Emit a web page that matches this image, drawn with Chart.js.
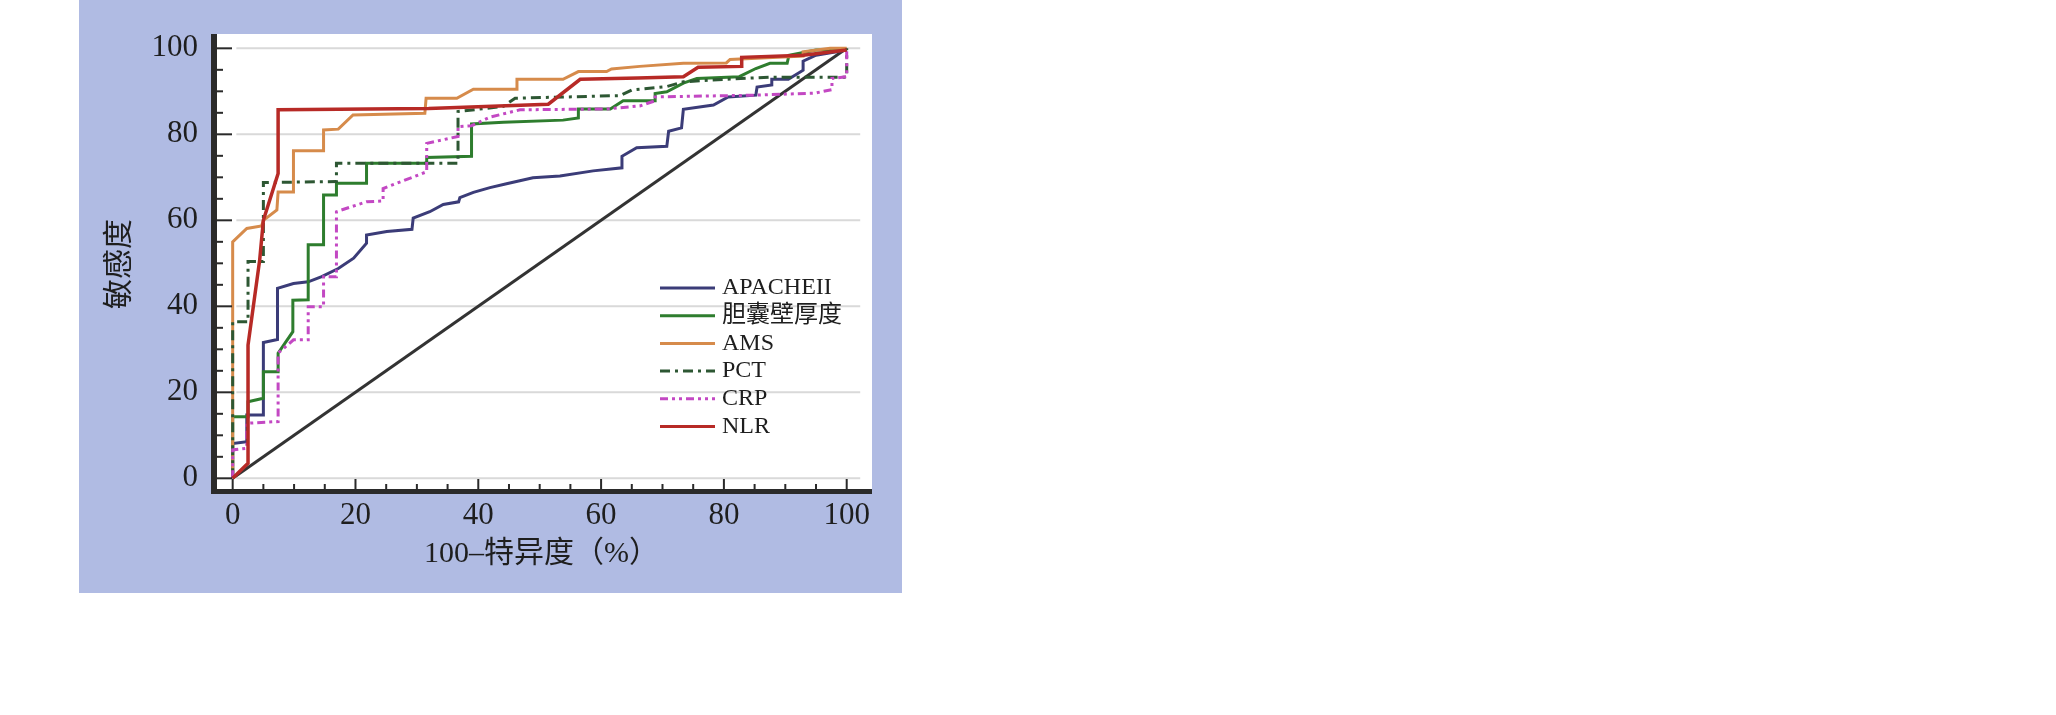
<!DOCTYPE html>
<html>
<head>
<meta charset="utf-8">
<script src="https://cdn.jsdelivr.net/npm/chart.js@4.4.0/dist/chart.umd.min.js"></script>
<style>
  html, body { margin: 0; padding: 0; background: #fff; }
  body { width: 2056px; height: 715px; position: relative; overflow: hidden; }
  #panel { position: absolute; left: 79px; top: 0; width: 823px; height: 593px; background: #b0bbe3; }
  #panel canvas { position: absolute; left: 0; top: 0; }
</style>
</head>
<body>
<div id="panel"><canvas id="roc" width="823" height="593"></canvas></div>
<script>
// ROC curves, [100-specificity, sensitivity]
const apache = [[0,0],[0,8.1],[2.3,8.5],[2.3,14.7],[5,14.7],[5,31.6],[7.3,32.3],[7.3,44.2],[9.9,45.3],[12.3,45.7],[14.5,46.9],[17.2,48.8],[19.7,51.2],[21.8,54.7],[21.8,56.6],[25.1,57.4],[29.2,57.9],[29.4,60.5],[32.1,62],[34.3,63.7],[36.8,64.3],[37,65.3],[39.2,66.5],[41.9,67.6],[44.6,68.5],[48.9,69.9],[53.3,70.3],[58.7,71.5],[63.4,72.2],[63.4,74.9],[65.8,76.9],[70.7,77.2],[71,80.7],[73.1,81.5],[73.4,85.8],[78.3,86.8],[80.7,88.7],[85.2,89.1],[85.4,91],[87.8,91.5],[87.8,92.8],[90.5,92.8],[92.9,94.9],[92.9,97],[95,98.4],[100,99.6]];
const wall = [[0,0],[0,14.3],[2.5,14.3],[2.5,17.8],[5,18.6],[5,24.8],[7.4,24.8],[7.4,29.1],[9.8,34.1],[9.8,41.4],[12.3,41.5],[12.3,54.3],[14.8,54.3],[14.8,65.9],[16.9,65.9],[16.9,68.6],[21.8,68.6],[21.8,73.3],[31.6,73.3],[31.6,74.6],[38.9,74.9],[38.9,82.4],[44.1,82.8],[53.8,83.3],[56.3,83.8],[56.3,85.9],[61.5,85.9],[63.6,87.8],[68.8,87.8],[68.8,89.5],[70.7,89.9],[73.4,91.9],[75.6,93],[82.5,93.4],[85.2,95.3],[87.5,96.5],[90.3,96.5],[90.6,98.4],[95,99.6],[100,99.6]];
const ams = [[0,0],[0,55],[2.3,58.1],[4.7,58.7],[5,60],[7.2,62.4],[7.4,66.6],[9.9,66.6],[9.9,76.2],[14.8,76.2],[14.8,81],[17.2,81.2],[19.6,84.5],[31.3,84.9],[31.5,88.4],[36.5,88.4],[39.2,90.5],[46.3,90.5],[46.3,92.8],[53.8,92.8],[56.3,94.6],[60.9,94.6],[61.7,95.2],[66.3,95.8],[73.4,96.5],[80.4,96.6],[81,97.4],[92.9,98.2],[92.9,99.2],[97.3,100],[100,100]];
const pct = [[0,0],[0,36.4],[2.5,36.4],[2.5,50.4],[5,50.4],[5,68.8],[16.9,69],[16.9,73.3],[36.7,73.3],[36.7,85.3],[44.1,86.5],[46,88.4],[63.1,89],[65,90.3],[70.7,91.1],[73.4,92.2],[77.7,92.6],[87.5,93.3],[100,93.3],[100,100]];
const crp = [[0,0],[0,6.6],[2.3,7],[2.3,12.8],[7.4,13.2],[7.4,29.1],[9.9,32.2],[12.3,32.2],[12.3,39.9],[14.8,39.9],[14.8,46.9],[16.9,46.9],[16.9,62],[19.4,63.2],[21.8,64.3],[24.5,64.5],[24.5,67.4],[26.7,68.6],[31.6,71.3],[31.6,77.9],[36.7,79.5],[36.7,81.8],[38.9,82],[41.9,84],[46.8,85.7],[60.9,85.9],[66.3,86.6],[68.8,87.8],[68.8,88.7],[85.2,89.1],[94.9,89.6],[97.6,90.4],[97.6,93],[100,93.4],[100,99.6]];
const nlr = [[0,0],[2.5,3.5],[2.5,31],[4.4,50.8],[5,60],[7.4,70.9],[7.4,85.7],[31.9,86],[51.4,87],[56.6,92.8],[66,93.1],[73.4,93.4],[75.8,95.6],[82.9,95.8],[82.9,97.9],[92.9,98.4],[100,99.6]];
const chance = [[0,0],[100,100]];

const seriesNames = ["APACHEII", "胆囊壁厚度", "AMS", "PCT", "CRP", "NLR"];
const xTicks = [0, 20, 40, 60, 80, 100];
const yTicks = [0, 20, 40, 60, 80, 100];
const minorTicks = [0, 5, 10, 15, 20, 25, 30, 35, 40, 45, 50, 55, 60, 65, 70, 75, 80, 85, 90, 95, 100];

const serif = "'Liberation Serif', 'Times New Roman', 'Noto Sans CJK SC', serif";
const ink = "#1e1e1e";

const toPts = arr => arr.map(p => ({ x: p[0], y: p[1] }));

const line = (label, pts, color, order, dash, width) => ({
  label: label,
  data: toPts(pts),
  borderColor: color,
  borderWidth: width || 3,
  borderDash: dash || [],
  pointRadius: 0,
  tension: 0,
  fill: false,
  order: order,
});

const datasets = [
  line(seriesNames[0], apache, "#3b3c78", 6),
  line(seriesNames[1], wall, "#2e7d2e", 5),
  line(seriesNames[2], ams, "#d68b4b", 4),
  line(seriesNames[3], pct, "#2d5733", 3, [10, 5, 3, 5]),
  line(seriesNames[4], crp, "#c348c3", 2, [8, 4, 3, 4, 3, 4]),
  line(seriesNames[5], nlr, "#b72a26", 1, [], 3.5),
  line("", chance, "#333333", 10),
];

// white plot box, grid, thick axes with inner ticks, inline legend
const frame = {
  id: "frame",
  beforeDraw(chart) {
    const { ctx, chartArea: a } = chart;
    ctx.save();
    ctx.fillStyle = "#ffffff";
    ctx.fillRect(a.left, a.top, a.right - a.left, a.bottom - a.top);
    ctx.restore();
  },
  beforeDatasetsDraw(chart) {
    const { ctx, scales } = chart;
    ctx.save();
    ctx.strokeStyle = "#d9d9d9";
    ctx.lineWidth = 2;
    yTicks.forEach(v => {
      const py = scales.y.getPixelForValue(v);
      ctx.beginPath();
      ctx.moveTo(scales.x.getPixelForValue(0.6), py);
      ctx.lineTo(scales.x.getPixelForValue(102.2), py);
      ctx.stroke();
    });
    ctx.restore();
  },
  afterDatasetsDraw(chart) {
    const { ctx, chartArea: a, scales } = chart;
    ctx.save();
    ctx.fillStyle = "#2a2a2a";
    ctx.fillRect(a.left, a.top, 6, a.bottom - a.top);
    ctx.fillRect(a.left, a.bottom - 5, a.right - a.left, 5);
    minorTicks.forEach(v => {
      const major = v % 20 === 0;
      const py = scales.y.getPixelForValue(v);
      ctx.fillRect(a.left + 6, py - 1, major ? 15 : 6, 2);
      const px = scales.x.getPixelForValue(v);
      const h = major ? 10 : 5;
      ctx.fillRect(px - 1, a.bottom - 5 - h, 2, h);
    });

    // legend
    ctx.font = "24px " + serif;
    ctx.textBaseline = "middle";
    ctx.textAlign = "left";
    chart.data.datasets.forEach((ds, i) => {
      if (!ds.label) return;
      const ly = 288 + i * 27.7;
      ctx.strokeStyle = ds.borderColor;
      ctx.lineWidth = 3;
      ctx.setLineDash(ds.borderDash);
      ctx.beginPath();
      ctx.moveTo(581, ly);
      ctx.lineTo(636, ly);
      ctx.stroke();
      ctx.setLineDash([]);
      ctx.fillStyle = ink;
      ctx.fillText(ds.label, 643, ly);
    });
    ctx.restore();
  },
};

new Chart(document.getElementById("roc"), {
  type: "line",
  data: { datasets: datasets },
  plugins: [frame],
  options: {
    responsive: false,
    devicePixelRatio: 1,
    animation: false,
    layout: { padding: { top: 34, right: 30, left: 0, bottom: 0 } },
    plugins: { legend: { display: false }, tooltip: { enabled: false } },
    scales: {
      x: {
        type: "linear",
        min: -3.53,
        max: 104.12,
        afterBuildTicks: s => { s.ticks = xTicks.map(v => ({ value: v })); },
        afterFit: s => { s.height = 99; },
        grid: { display: false, drawTicks: false },
        border: { display: false },
        ticks: {
          autoSkip: false, maxRotation: 0, padding: 3, color: ink,
          font: { family: serif, size: 31 },
          callback: v => String(v),
        },
        title: {
          display: true, text: "100–特异度（%）", color: ink,
          font: { family: serif, size: 30 },
          padding: { top: 0, bottom: 21 },
        },
      },
      y: {
        type: "linear",
        min: -3.65,
        max: 103.33,
        afterBuildTicks: s => { s.ticks = yTicks.map(v => ({ value: v })); },
        afterFit: s => { s.width = 132; },
        grid: { display: false, drawTicks: false },
        border: { display: false },
        ticks: {
          autoSkip: false, padding: 13, color: ink,
          font: { family: serif, size: 31 },
          callback: v => String(v),
        },
        title: {
          display: true, text: "敏感度", color: ink,
          font: { family: serif, size: 30 },
          padding: { top: 23, bottom: 0 },
        },
      },
    },
  },
});
</script>
</body>
</html>
